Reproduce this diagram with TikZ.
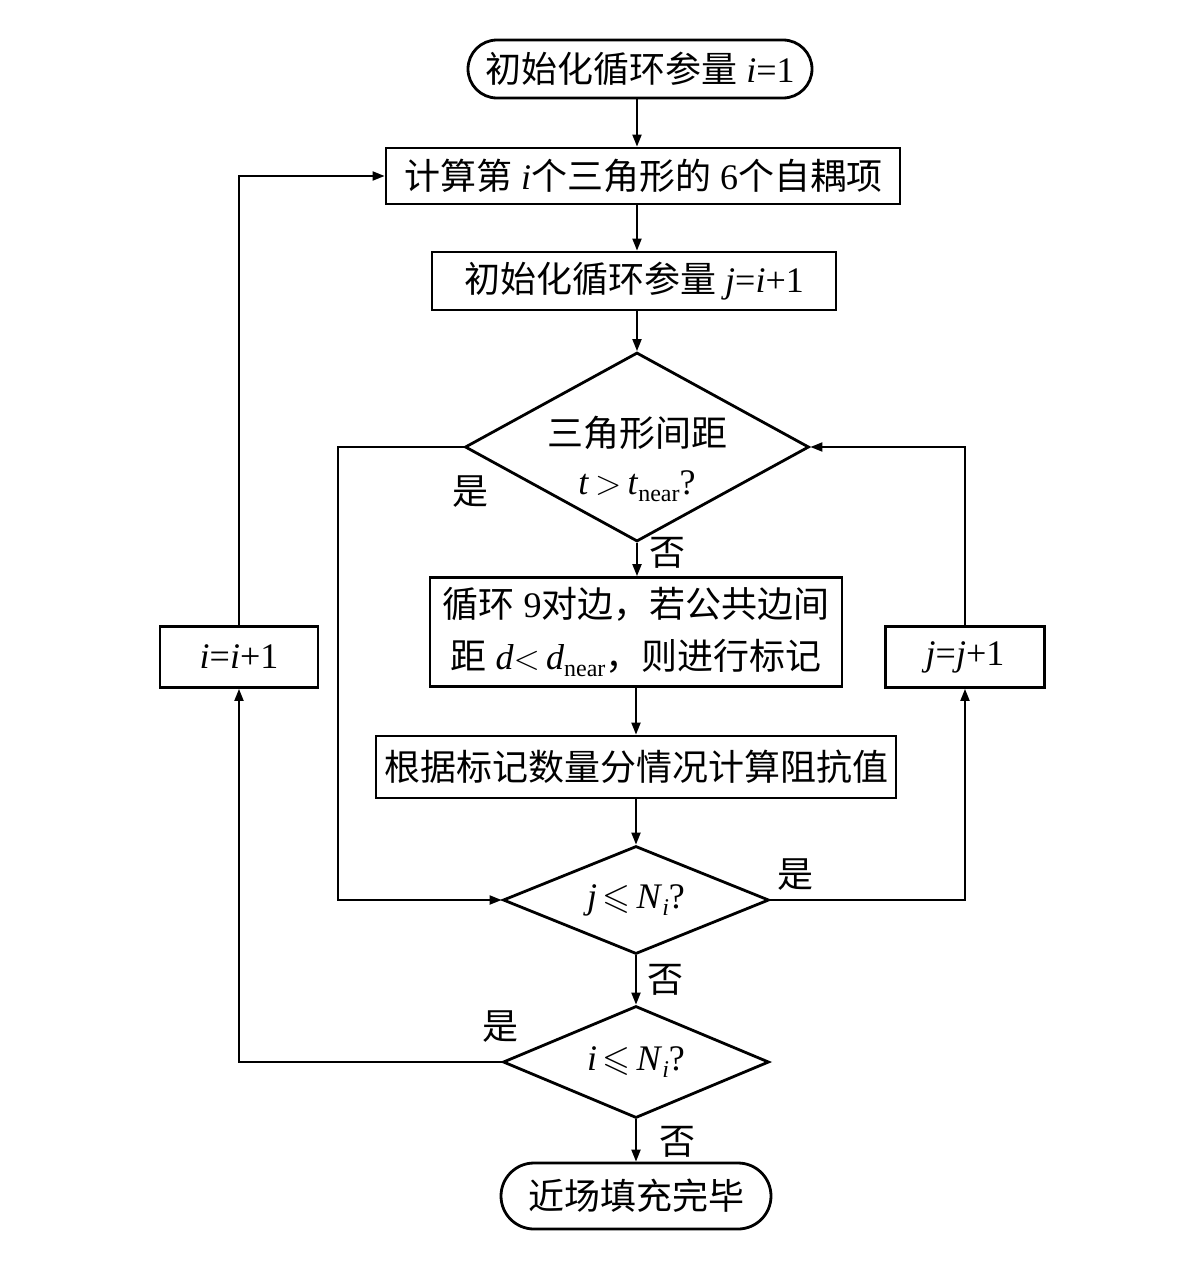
\documentclass[tikz,border=0pt]{standalone}
\usepackage{amssymb}
\usepackage{fontspec}
\setmainfont{Liberation Serif}
\newfontfamily\cjk{Noto Sans CJK SC}
\usetikzlibrary{shapes.geometric,arrows.meta}
\newcommand\zh[1]{{\cjk #1}}
\newcommand\lowsub[1]{\raisebox{-0.45ex}{\fontsize{12}{12}\selectfont #1}}
\begin{document}
\begin{tikzpicture}[x=0.5pt,y=-0.5pt,
  font=\fontsize{18}{22}\selectfont,
  box/.style={draw,line width=1.4pt,inner sep=0pt,align=center},
  term/.style={box,rounded corners=14.5pt},
  dia/.style={draw,line width=1.4pt,diamond,aspect=1,inner sep=0pt},
  lbl/.style={inner sep=0pt},
  conn/.style={line width=1pt,-{Triangle[length=6pt,width=4.5pt]}},
  plain/.style={line width=1pt}]
\useasboundingbox (0,0) rectangle (1200,1274);
% main column
\node[term,minimum width=172pt,minimum height=29pt] (start) at (640,69)
  {\zh{初始化循环参量} \textit{i}=1};
\node[box,minimum width=257pt,minimum height=28pt] (calc) at (643,176)
  {\zh{计算第} \textit{i}\zh{个三角形的} 6\zh{个自耦项}};
\node[box,minimum width=202pt,minimum height=29pt] (initj) at (634,281)
  {\zh{初始化循环参量} \textit{j}=\textit{i}+1};
\node[dia,minimum width=172pt,minimum height=94.5pt] (d1) at (637,447) {};
\node[lbl,align=center] (d1t) at (637,459)
  {\zh{三角形间距}\\[2pt]\textit{t}\,$>$\,\textit{t}\lowsub{near}?};
\node[box,minimum width=206pt,minimum height=54.5pt] (loop9) at (636,632)
  {\zh{循环} 9\zh{对边，若公共边间}\\[4pt]\zh{距} \textit{d}$<$\,\textit{d}\lowsub{near}\zh{，则进行标记}};
\node[box,minimum width=260pt,minimum height=31pt] (imp) at (636,767)
  {\zh{根据标记数量分情况计算阻抗值}};
\node[dia,minimum width=133pt,minimum height=54pt] (d2) at (636,900) {};
\node[lbl] (d2t) at (636,900) {\textit{j}$\,\leqslant\,$\textit{N}\lowsub{\textit{i}}?};
\node[dia,minimum width=133pt,minimum height=56pt] (d3) at (636,1062) {};
\node[lbl] (d3t) at (636,1062) {\textit{i}$\,\leqslant\,$\textit{N}\lowsub{\textit{i}}?};
\node[term,minimum width=135pt,minimum height=33pt,rounded corners=16.5pt] (finish) at (636,1196)
  {\zh{近场填充完毕}};
% side boxes
\node[box,minimum width=79pt,minimum height=30.5pt] (inci) at (239,657)
  {\textit{i}=\textit{i}+1};
\node[box,minimum width=79.5pt,minimum height=30.5pt] (incj) at (965,657)
  {\textit{j}=\textit{j}+1};
\coordinate (cL) at (338,447);
% labels
\node[lbl] (y1) at (470,492) {\zh{是}};
\node[lbl] (n1) at (667,553) {\zh{否}};
\node[lbl] (y2) at (795,875) {\zh{是}};
\node[lbl] (n2) at (665,980) {\zh{否}};
\node[lbl] (y3) at (500,1027) {\zh{是}};
\node[lbl] (n3) at (677,1142) {\zh{否}};
% connectors
\draw[conn] (d1.north |- start.south) -- (d1.north |- calc.north);
\draw[conn] (d1.north |- calc.south) -- (d1.north |- initj.north);
\draw[conn] (d1.north |- initj.south) -- (d1.north);
\draw[conn] (d1.south) -- (d1.south |- loop9.north);
\draw[conn] (loop9.south) -- (imp.north);
\draw[conn] (imp.south) -- (d2.north);
\draw[conn] (d2.south) -- (d3.north);
\draw[conn] (d3.south) -- (finish.north);
\draw[conn] (d1.west) -- (cL) |- (d2.west);
\draw[conn] (d2.east) -| (incj.south);
\draw[conn] (incj.north) |- (d1.east);
\draw[conn] (d3.west) -| (inci.south);
\draw[conn] (inci.north) |- (calc.west);
\end{tikzpicture}
\end{document}
